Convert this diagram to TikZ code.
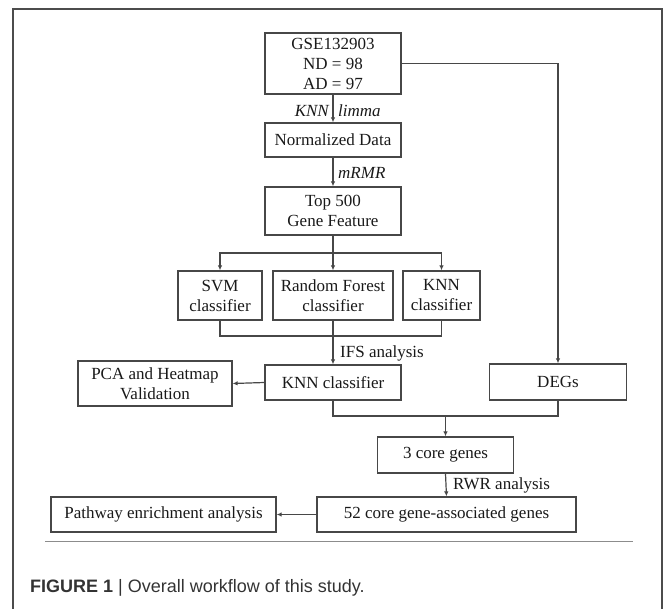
\documentclass[tikz,border=0pt]{standalone}
\usepackage{fontspec}
\setmainfont{Liberation Serif}
\newfontfamily\capfont{Liberation Sans}
\usetikzlibrary{arrows.meta}
\begin{document}
\begin{tikzpicture}[x=1pt,y=-1pt,
 box/.style={draw=black!72,line width=1.3pt,inner sep=0pt,align=center,font=\fontsize{17}{20}\selectfont,text=black!90},
 conn/.style={draw=black!72,line width=1.2pt},
 arr/.style={conn,-{Latex[length=5pt,width=4.5pt]}},
 lab/.style={font=\fontsize{17}{20}\selectfont,inner sep=0pt,text=black!90}]
\useasboundingbox (0,0) rectangle (672,608);
\clip (0,0) rectangle (672,608);
\draw[black!70,line width=1.5pt] (13,625) -- (13,9) -- (662,9) -- (662,625);

\node[box,minimum width=136pt,minimum height=61pt] (gse) at (333,63.5) {GSE132903\\ND = 98\\AD = 97};
\node[box,minimum width=136pt,minimum height=34pt] (norm) at (333,140) {Normalized Data};
\node[box,minimum width=136pt,minimum height=48pt] (top) at (333,211) {Top 500\\Gene Feature};
\node[box,minimum width=84pt,minimum height=49pt] (svm) at (220,295.5) {SVM\\classifier};
\node[box,minimum width=120pt,minimum height=49pt] (rf) at (333,295.5) {Random Forest\\classifier};
\node[box,minimum width=77pt,minimum height=49pt] (knnc) at (441.5,295.5) {KNN\\classifier};
\node[box,minimum width=136pt,minimum height=35pt] (knn) at (333,382.5) {KNN classifier};
\node[box,minimum width=154pt,minimum height=45pt] (pca) at (155,383.5) {PCA and Heatmap\\Validation};
\node[box,minimum width=137pt,minimum height=36pt] (degs) at (558,382) {DEGs};
\node[box,minimum width=136pt,minimum height=36pt] (core3) at (445.5,455) {3 core genes};
\node[box,minimum width=259pt,minimum height=35pt] (core52) at (446.5,514.5) {52 core gene-associated genes};
\node[box,minimum width=225pt,minimum height=35pt] (path) at (163.5,514.5) {Pathway enrichment analysis};

\coordinate (br) at (333,253);
\coordinate (jn) at (333,336);
\coordinate (bj) at (445.5,416);

% connectors
\draw[arr] (gse) -- (norm);
\node[lab,anchor=east] (lknn) at (329,111) {\itshape KNN};
\node[lab,anchor=west] (llim) at (338,111) {\itshape limma};
\draw[arr] (gse.east) -| (degs.north);
\draw[arr] (norm) -- (top);
\node[lab,anchor=west] (lmrmr) at (338,173) {\itshape mRMR};
\draw[conn] (top.south) -- (br);
\draw[arr] (br) -| (svm.north);
\draw[arr] (br) -| (knnc.north);
\draw[arr] (br) -- (rf.north);
\draw[conn] (svm.south) |- (jn) -| (knnc.south);
\draw[arr] (rf.south) -- (knn.north);
\node[lab,anchor=west] (lifs) at (340,353) {IFS analysis};
\draw[arr] (knn.west) -- (pca.east);
\draw[conn] (knn.south) |- (bj) -| (degs.south);
\draw[arr] (bj) -- (core3.north);
\draw[arr] (core3.south) -- (core52.north);
\node[lab,anchor=west] (lrwr) at (453,485) {RWR analysis};
\draw[arr] (core52.west) -- (path.east);

\draw[black!45,line width=0.9pt] (45,541) -- (633,541);
\node[anchor=west,inner sep=0pt,font=\capfont\fontsize{18}{20}\selectfont,text=black!80] (cap) at (30,588) {\textbf{FIGURE 1} | Overall workflow of this study.};
\end{tikzpicture}
\end{document}
